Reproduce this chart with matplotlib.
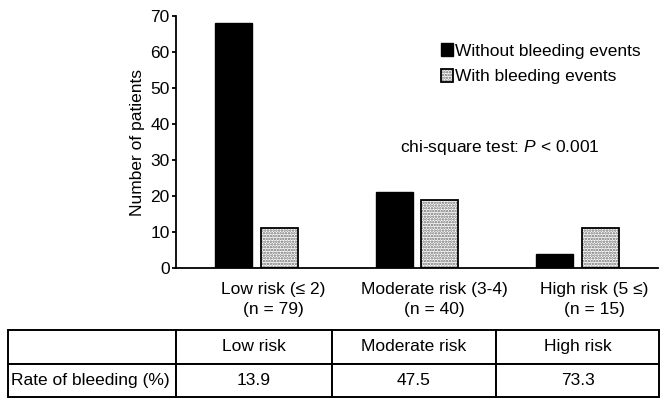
import numpy as np
import matplotlib
matplotlib.use('Agg')
import matplotlib.pyplot as plt
import matplotlib.transforms as mtransforms

plt.rcParams['font.family'] = ['Liberation Sans', 'DejaVu Sans']
plt.rcParams['mathtext.fontset'] = 'custom'
plt.rcParams['mathtext.it'] = 'Liberation Sans:italic'
plt.rcParams['mathtext.rm'] = 'Liberation Sans'
plt.rcParams['hatch.linewidth'] = 1.2

# data
categories = ['Low risk (≤ 2)\n(n = 79)', 'Moderate risk (3-4)\n(n = 40)', 'High risk (5 ≤)\n(n = 15)']
without_bleeding = [68, 21, 4]
with_bleeding = [11, 19, 11]
table_header = ['', 'Low risk', 'Moderate risk', 'High risk']
bleeding_rate = ['Rate of bleeding (%)', '13.9', '47.5', '73.3']

fig = plt.figure(figsize=(6.69, 4.01), dpi=100)
ax = fig.add_axes([176 / 669, 1 - 268 / 401, (658 - 176) / 669, (268 - 16) / 401])

x = np.arange(len(categories))
w = 0.23
off = 0.143
b1 = ax.bar(x - off, without_bleeding, w, color='black', edgecolor='black', linewidth=1)
b2 = ax.bar(x + off, with_bleeding, w, color='white', edgecolor='#6a6a6a', hatch='......', linewidth=0)
b3 = ax.bar(x + off, with_bleeding, w, fill=False, edgecolor='black', linewidth=1.3)

ax.set_xlim(-0.5, 2.5)
ax.set_ylim(0, 70)
ax.set_yticks(range(0, 71, 10))
ax.set_xticks(x)
ax.set_xticklabels(categories, fontsize=12.5, linespacing=1.4)
ax.tick_params(axis='x', length=0, pad=10)
ax.tick_params(axis='y', labelsize=12.5, length=3, width=1.3, pad=1.5)
# category labels sit a little right of the bar pairs
shift = mtransforms.ScaledTranslation(0.17, 0, fig.dpi_scale_trans)
for lbl in ax.get_xticklabels():
    lbl.set_transform(lbl.get_transform() + shift)
ax.spines['top'].set_visible(False)
ax.spines['right'].set_visible(False)
ax.spines['left'].set_linewidth(1.3)
ax.spines['bottom'].set_linewidth(1.3)
ax.set_ylabel('Number of patients', fontsize=12.5, labelpad=4)

leg = ax.legend([b1, (b2, b3)], ['Without bleeding events', 'With bleeding events'],
                loc='upper left', bbox_to_anchor=(0.535, 0.92), frameon=False,
                fontsize=12.5, handlelength=0.7, handleheight=0.75,
                handletextpad=0.12, labelspacing=0.6, borderaxespad=0)

ax.text(0.465, 0.48, 'chi-square test: $\\it{P}$ < 0.001', transform=ax.transAxes,
        fontsize=12.5, ha='left', va='center')

# table
tax = fig.add_axes([8 / 669, 1 - 397 / 401, (659 - 8) / 669, (397 - 330) / 401])
tax.axis('off')
col_w = np.array([168, 156, 164, 163], dtype=float)
col_w = col_w / col_w.sum()
tbl = tax.table(cellText=[table_header, bleeding_rate], colWidths=col_w,
                bbox=[0, 0, 1, 1], cellLoc='center')
tbl.auto_set_font_size(False)
for (r, c), cell in tbl.get_celld().items():
    cell.set_linewidth(1.4)
    cell.set_edgecolor('black')
    cell.get_text().set_fontsize(12.5)
    if c == 0:
        cell.get_text().set_ha('left')
        cell.PAD = 0.02

fig.savefig('out.png', dpi=100)
